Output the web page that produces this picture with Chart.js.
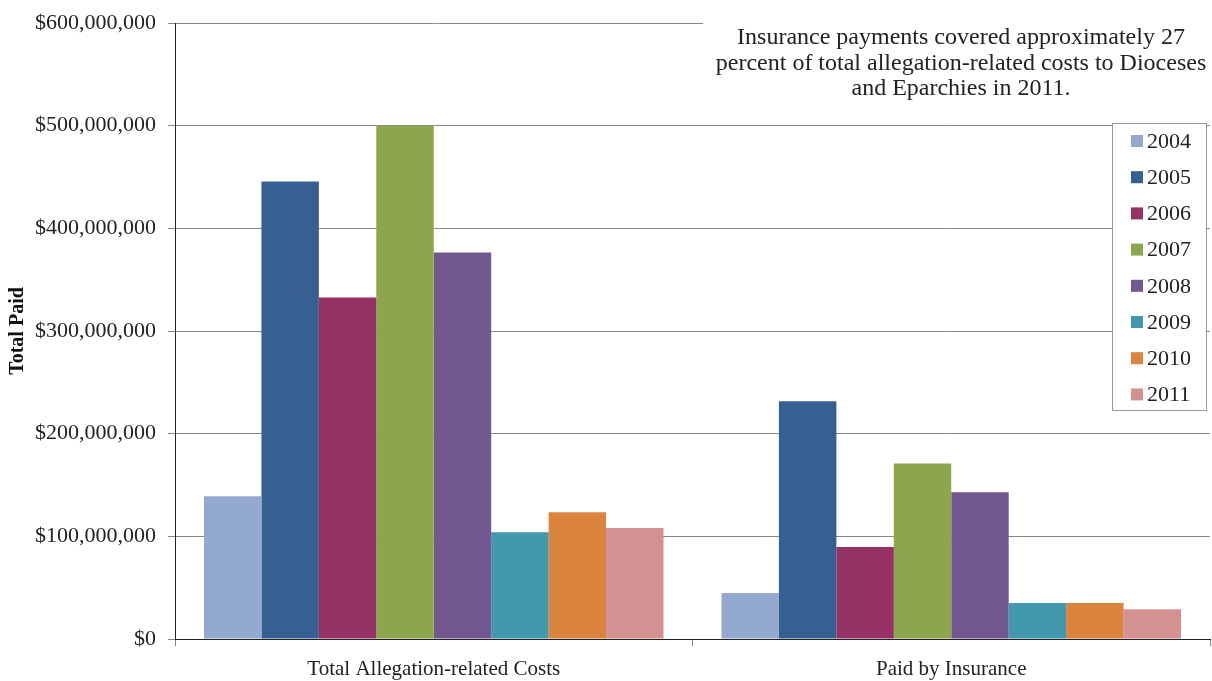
<!DOCTYPE html>
<html>
<head>
<meta charset="utf-8">
<script src="https://cdn.jsdelivr.net/npm/chart.js@4"></script>
<style>
  body { margin: 0; background: #fff; }
  #wrap { width: 1212px; height: 681px; }
</style>
</head>
<body>
<div id="wrap"><canvas id="paidChart" width="1212" height="681"></canvas></div>
<script>
// categories and values
const categories = ['Total Allegation-related Costs', 'Paid by Insurance'];
const years = ['2004', '2005', '2006', '2007', '2008', '2009', '2010', '2011'];
const totalCosts = [139000000, 445500000, 332700000, 500000000, 376500000, 104000000, 123500000, 108000000];
const paidByInsurance = [44700000, 231500000, 89500000, 171000000, 143000000, 35000000, 35000000, 29000000];
const yearColors = ['#93a9cf', '#366092', '#953163', '#8ba64c', '#71588f', '#4198af', '#db843d', '#d39291'];
const noteLines = [
    'Insurance payments covered approximately 27',
    'percent of total allegation-related costs to Dioceses',
    'and Eparchies in 2011.'
];

const serif = '"Liberation Serif", "Times New Roman", serif';

// one dataset per year, two bars each
const datasets = years.map((y, i) => ({
    label: y,
    data: [totalCosts[i], paidByInsurance[i]],
    backgroundColor: yearColors[i],
    borderWidth: 0,
    categoryPercentage: 0.888,
    barPercentage: 1.0
}));

// note box top right
const notePlugin = {
    id: 'note',
    afterDraw(chart) {
        const c = chart.ctx;
        c.save();
        c.fillStyle = '#fff';
        c.fillRect(703, 10, 509, 102);
        c.fillStyle = '#222';
        c.font = '24px ' + serif;
        c.textAlign = 'center';
        c.textBaseline = 'middle';
        noteLines.forEach((t, i) => c.fillText(t, 961, 38 + i * 25.5));
        c.restore();
    }
};

// boxed legend floating over the plot
const boxLegend = {
    id: 'boxLegend',
    afterDraw(chart) {
        const c = chart.ctx;
        const x = 1112, y = 123, w = 94, h = 287;
        c.save();
        c.fillStyle = '#fff';
        c.fillRect(x, y, w, h);
        c.strokeStyle = '#999';
        c.lineWidth = 1;
        c.strokeRect(x + 0.5, y + 0.5, w, h);
        c.font = '22px ' + serif;
        c.textBaseline = 'middle';
        chart.data.datasets.forEach((ds, i) => {
            const cy = y + 18 + i * 36.2;
            c.fillStyle = ds.backgroundColor;
            c.fillRect(x + 19, cy - 6, 12, 12);
            c.fillStyle = '#222';
            c.fillText(ds.label, x + 35, cy + 1);
        });
        c.restore();
    }
};

new Chart(document.getElementById('paidChart').getContext('2d'), {
    type: 'bar',
    data: { labels: categories, datasets: datasets },
    options: {
        responsive: false,
        animation: false,
        layout: { padding: { top: 6, right: 2, bottom: 0, left: 0 } },
        plugins: {
            legend: { display: false },
            tooltip: { enabled: false }
        },
        scales: {
            x: {
                afterFit: s => { s.height = 42; },
                grid: { offset: true, drawOnChartArea: false, drawTicks: true, tickLength: 7, color: '#888' },
                border: { color: '#222', width: 1 },
                ticks: { color: '#222', font: { family: serif, size: 21 }, padding: 11 }
            },
            y: {
                afterFit: s => { s.width = 175; },
                min: 0,
                max: 600000000,
                grid: { color: '#888', tickLength: 7 },
                border: { color: '#222', width: 1 },
                ticks: {
                    stepSize: 100000000,
                    color: '#222',
                    font: { family: serif, size: 22, lineHeight: 1 },
                    padding: 12,
                    callback: v => '$' + v.toLocaleString('en-US')
                },
                title: {
                    display: true,
                    text: 'Total Paid',
                    color: '#111',
                    font: { family: serif, size: 20, weight: 'bold' },
                    padding: { top: 6, bottom: 2 }
                }
            }
        }
    },
    plugins: [notePlugin, boxLegend]
});
</script>
</body>
</html>
